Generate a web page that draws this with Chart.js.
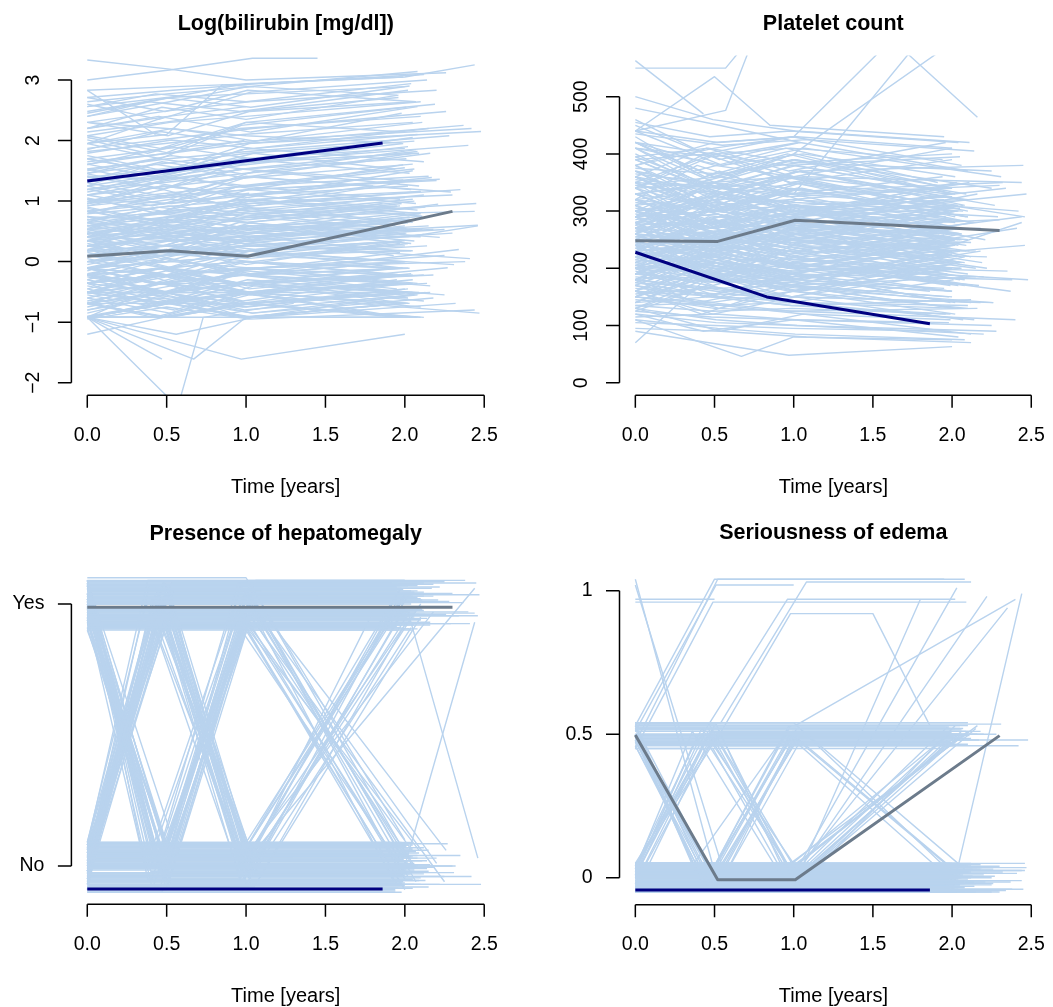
<!DOCTYPE html>
<html><head><meta charset="utf-8">
<script src="https://cdn.jsdelivr.net/npm/chart.js@4.4.1/dist/chart.umd.min.js"></script>
<style>
html,body{margin:0;padding:0;background:#fff;}
#wrap{position:relative;width:1053px;height:1007px;overflow:hidden;background:#fff;}
canvas{position:absolute;}
</style></head><body>
<div id="wrap">
<canvas id="c1" width="526" height="503" style="left:0px;top:0px"></canvas>
<canvas id="c2" width="527" height="503" style="left:526px;top:0px"></canvas>
<canvas id="c3" width="526" height="504" style="left:0px;top:503px"></canvas>
<canvas id="c4" width="527" height="504" style="left:526px;top:503px"></canvas>
</div>
<script>
// ---- visit times per patient (years) ----
const TIMES = [
[0,.50,1.00,2.00],[0,.49,.98,1.97],[0,.52,1.03,2.05],[0,.47,1.00,2.10],[0,.55,1.06,2.02],
[0,.50,.99],[0,.46,.97,1.95],[0,.51,1.02,2.20],[0,.53,1.05,2.45],[0,.48,.96],
[0,.50,1.01,1.98],[0,.54,1.08,2.12],[0,.45,.95,1.92],[0,.50],[0,.52,1.00,2.04],
[0,.49,1.03,2.30],[0,.47,.99,2.00],[0,.56,1.05,2.08],[0,.50,1.02],[0,.51,1.01,1.96],
[0,.48,1.00,2.25],[0,.53,1.04,1.45],[0,.46,.97,1.93],[0,.50,1.00,2.15],[0,.55,1.10],
[0,.49,.98,2.05],[0,.52,1.02,2.00],[0,.47,1.03,2.35],[0,.50,.99,1.99],[0,.51,1.00],
[0,.54,1.06,2.10],[0,.48,.97,1.98],[0,.50,1.01,2.40],[0,.46,.99,2.03],[0,.53,1.04],
[0,.50,1.00,2.00],[0,.49,1.02,2.18],[0,.52,1.03,1.95],[0,.47,.96,2.05],[0,.51,1.01,2.28],
[0,.50],[0,.55,1.05,2.00],[0,.48,.98,1.96],[0,.52,1.00,2.10],[0,.46,.97],
[0,.50,1.02,2.02],[0,.53,1.04,2.20],[0,.49,.99,1.99],[0,.51,1.01,2.42],[0,.47,.96,2.05],
[0,.50,1.03],[0,.54,1.06,2.00],[0,.48,.98,1.95],[0,.52,1.01,2.08],[0,.50,.99,2.01],
[0,.46,.97,2.15],[0,.53,1.05,2.32],[0,.51,1.02],[0,.49,1.00,1.97],[0,.47,.98,2.04],
[0,.55,1.07,2.10],[0,.50,1.00,2.00],[0,.52,1.04,2.26],[0,.48,.97],[0,.50,1.01,1.99],
[0,.46,.99,2.12],[0,.53,1.03,2.02],[0,.51,1.00,2.38],[0,.49,.98,1.94],[0,.47],
[0,.57,1.01,2.06],[0,.47,.96,2.00],[0,.52,1.02,2.18],[0,.50,1.05],[0,.48,.99,2.03],
[0,.54,1.06,2.44],[0,.51,1.01,1.98],[0,.49,.97,2.09],[0,.46,1.00,2.00],[0,.53,1.03],
[0,.50,1.00,2.22],[0,.52,1.04,2.01],[0,.48,.98,1.96],[0,.55,1.08,2.14],[0,.47,.97,2.05],
[0,.51,1.02,2.30],[0,.50,.99],[0,.53,1.05,2.00],[0,.49,1.01,2.11],[0,.46,.96,1.93],
[0,.52,1.00,2.48],[0,.50,1.03,2.04],[0,.48,.98,2.16],[0,.55,1.06,1.99],[0,.51,1.01,2.07],
[0,.47,.97,2.02],[0,.50,1.00],[0,.53,1.04,2.25],[0,.49,.99,2.01],[0,.52,1.02,2.12],
[0,.52,1.00,2.26],[0,.57,.72],[0,.43],[0,.50,.85,1.95],[0,.57,.73,1.30],
[0,.67,1.00,2.00],[0,.97,2.00],[0,.50,1.00,1.80],[0,.50,1.00,2.03],[0,.50,1.00,1.62,2.16],
[0,.48,1.00],[0,.50,1.00,1.98],[0,.52,1.00,2.00,2.44],[0,.51,1.00,2.02,2.46],[0,.50,.98,1.50,1.86],
[0,.40,.95,1.95],[0,.45,1.00,2.02],[0,.42,.98,2.05],[0,.50,1.02,1.99],[0,.38,.96,2.10],
[0,.47,1.01,2.00],[0,.44,.99,1.97],[0,.52,1.04,2.08],[0,.41,.97,2.03],[0,.49,1.00,1.93],
[0,.36,.94,2.01],[0,.48,1.03,2.12],[0,.43,.98,1.96],[0,.51,1.02,2.06],[0,.40,.99,2.00],
[0,.46,1.01,1.98],[0,.53,1.05,2.15],[0,.39,.97,1.94],[0,.45,1.00,2.02],[0,.50,.98,2.09],
[0,.42,1.02,1.99],[0,.47,.96,2.04],[0,.55,1.07,2.00],[0,.37,.95,1.91],[0,.49,1.01,2.07],
[0,.44,.99,2.01],[0,.52,1.03,2.13],[0,.41,.97,1.97],[0,.48,1.00,2.05],[0,.46,1.04,1.95],
[0,.54,1.06,2.11],[0,.43,.98,2.00],[0,.50,1.01,1.98],[0,.40,.96,2.03],[0,.47,1.02,2.17],
[0,.51,.99,1.96],[0,.45,1.03,2.08],[0,.38,.97,2.00],[0,.50,1.00,2.02],[0,.44,1.05,1.94],
[0,.49,.98,2.06],[0,.42,1.01,1.99],[0,.53,1.04,2.10],[0,.46,.97,2.01],[0,.41,1.00,2.04],
[0,.48,1.02,1.97],[0,.52,.99,2.09],[0,.39,.96,2.02],[0,.47,1.03,1.95],[0,.44,.98,2.00],
[0,.50,1.01,2.12],[0,.43,1.00,1.98],[0,.51,1.05,2.05],[0,.45,.97,1.96],[0,.48,1.02,2.07],
[0,.40,.99,2.01],[0,.53,1.03,2.14],[0,.46,1.00,1.99],[0,.42,.97,2.03],[0,.49,1.01,2.00],
[0,.44,.98,2.08],[0,.50,1.04,1.97],[0,.37,.96,2.02],[0,.47,1.02,2.10],[0,.52,.99,1.95],
[0,.43,1.00,2.04],[0,.48,1.03,2.01],[0,.41,.97,1.98],[0,.46,1.01,2.06],[0,.50,1.05,2.00],
[0,.45,.98,2.02],[0,.52,1.01,2.21],[0,.48,.97,1.99],[0,.50,1.03,2.34],[0,.43,.99,2.05],
[0,.55,1.05,2.12],[0,.47,1.00,1.96],[0,.51,1.02,2.41],[0,.44,.96,2.00],[0,.49,1.04,2.18],
[0,.53,1.00,2.06],[0,.46,.98,1.98],[0,.50,1.01,2.27],[0,.42,.97,2.03],[0,.54,1.06,2.09],
[0,.48,1.02,2.47],[0,.51,.99,1.97],[0,.45,1.03,2.14],[0,.50,1.00,2.00],[0,.47,.96,2.22],
[0,.52,1.04,2.05],[0,.44,.98,1.95],[0,.55,1.07,2.31],[0,.49,1.01,2.08],[0,.46,.97,2.01],
[0,.50,1.02,2.44],[0,.43,1.00,2.10],[0,.53,1.05,1.99],[0,.48,.99,2.16],[0,.51,1.03,2.03],
[0,.45,.96,1.94],[0,.50,1.01,2.25],[0,.47,.98,2.07],[0,.54,1.06,2.12],[0,.42,1.00,1.98],
[0,.49,1.02,2.37],[0,.52,.97,2.04],[0,.46,1.04,2.02],[0,.50,1.00,2.19],[0,.44,.99,2.06],
[0,.53,1.03,2.00],[0,.48,1.01,2.29],[0,.51,.96,1.97],[0,.45,1.02,2.11],[0,.50,.98,2.05],
[0,.47,1.05,2.46],[0,.53,1.00,2.02],[0,.49,.97,1.95],[0,.42,1.01,2.13],[0,.55,1.04,2.08],
[0,.45,.99,2.01],[0,.50,1.02,2.04],[0,.47,.98,1.99],[0,.52,1.03,2.10],[0,.44,1.00,2.05],
[0,.49,1.01,1.97],[0,.51,.97,2.08],[0,.46,1.02,2.02],[0,.53,1.04,2.00],[0,.48,.99,2.06]
];
// ---- log(bilirubin) per visit ----
const BILI = [
[-.51,-.36,-.22,-.36],[.18,.26,.41,.53],[1.10,1.25,1.39,1.61],[-.92,-.92,-.69,-.92],[.41,.34,.53,.64],
[1.61,1.79,2.00],[-.22,-.11,0,-.11],[2.30,2.49,2.64,2.83],[.59,.64,.74,.96],[-.69,-.51,-.69],
[0,.10,.18,.34],[2.71,2.83,2.94,3.09],[-.36,-.22,-.36,-.22],[1.95,2.40],[.53,.47,.59,.69],
[-.11,.10,.26,.47],[1.39,1.53,1.70,1.87],[-.92,-1.20,-.92,-.92],[.83,.96,1.13],[-.51,-.51,-.36,-.51],
[.26,.41,.34,.53],[3.00,3.17,3.36,3.36],[-.69,-.51,-.51,-.36],[.99,1.13,1.25,1.41],[-.36,-.22,-.11],
[1.82,1.95,2.10,2.30],[-.11,-.22,-.11,0],[.64,.79,.96,1.19],[-.92,-.69,-.92,-.69],[2.20,2.40,2.56],
[.34,.26,.47,.41],[-.22,-.36,-.22,-.11],[1.25,1.45,1.65,1.92],[-.51,-.69,-.51,-.69],[.10,.18,.26],
[2.56,2.71,2.77,2.89],[-.69,-.51,-.36,-.22],[.74,.69,.83,.92],[-.36,-.51,-.36,-.51],[1.53,1.70,1.82,2.08],
[-.11,0],[.47,.59,.53,.69],[-.92,-.92,-.92,-.92],[2.08,2.30,2.40,2.64],[.26,.18,.34],
[-.22,-.11,-.22,-.11],[.96,1.10,1.19,1.34],[-.51,-.36,-.36,-.22],[1.70,1.87,1.99,2.20],[.18,.10,.26,.18],
[-.69,-.92,-.69],[.59,.74,.88,1.06],[-.36,-.22,-.11,-.22],[2.40,2.64,2.89,3.14],[-.11,0,.10,0],
[.34,.47,.41,.59],[-.92,-.69,-.92,-.69],[1.19,1.41,1.61],[.10,.26,.18,.34],[-.22,-.36,-.51,-.36],
[.79,.92,1.03,1.16],[-.51,-.51,-.51,-.36],[1.87,2.03,2.20,2.48],[-.69,-.69,-.51],[.41,.53,.47,.64],
[-.36,-.22,-.36,-.22],[1.03,.96,1.10,1.25],[-.11,-.22,-.11,0],[.53,.64,.79,.88],[-.92,-1.61],
[1.46,1.65,1.79,1.99],[-.69,-.51,-.69,-.51],[.26,.34,.41,.53],[2.64,2.77,2.89],[-.22,-.11,0,-.11],
[.64,.59,.74,.83],[-.51,-.36,-.51,-.36],[1.31,1.48,1.63,1.79],[0,.10,.18,.26],[-.36,-.51,-.36],
[.92,1.06,1.19,1.36],[-.92,-.69,-.69,-.92],[2.14,2.30,2.48,2.71],[.18,.26,.10,.26],[-.11,-.22,-.36,-.22],
[.69,.83,.96,1.10],[1.10,1.34,1.53],[-.51,-.69,-.51,-.51],[.47,.41,.59,.53],[-.22,-.36,-.22,-.36],
[1.65,1.79,1.95,2.15],[.10,0,.10,.18],[-.69,-.92,-.69,-.51],[2.83,2.89,2.94,3.05],[.34,.47,.59,.69],
[-.36,-.22,-.36,-.22],[.59,.74,.92],[-.11,0,-.11,.10],[1.41,1.36,1.53,1.70],[-.92,-.92,-.69,-.92],
[3.33,3.18,3.00,3.12],[.47,.59,.64],[2.83,2.10],[1.95,2.10,2.92,2.75],[-.92,-2.40,-.92,-.69],
[-.92,-1.61,-.92,-.69],[-.92,-1.61,-1.20],[.69,.83,.99,1.25],[.26,.41,.53,.69],[1.19,1.31,1.46,1.61,1.79],
[-1.20,-.92,-.69],[2.30,2.20,2.08,1.96],[2.48,2.71,2.94,3.05,3.25],[0,.18,.26,.41,.59],[.41,.53,.69,.83,.96],
[.83,.64,1.03,.88],[-.36,-.11,-.51,-.22],[1.25,1.61,1.39,1.79],[0,-.22,.18,-.11],[2.01,1.79,2.20,2.40],
[-.69,-.36,-.69,-.51],[.53,.83,.64,.92],[-.22,-.51,-.11,-.36],[1.53,1.30,1.70,1.46],[.26,0,.34,.10],
[-.92,-.51,-.92,-.69],[.92,1.19,.83,1.10],[-.51,-.22,-.36,-.11],[2.30,2.08,2.48,2.64],[.10,.41,.18,.47],
[-.11,-.36,0,-.22],[1.79,2.01,1.87,2.20],[-.36,-.69,-.51,-.92],[.64,.41,.74,.53],[.41,.69,.47,.79],
[-.69,-.92,-.51,-.69],[1.41,1.19,1.53,1.33],[.18,.47,.26,.53],[-.22,0,-.36,-.11],[2.71,2.48,2.83,2.64],
[.74,.53,.88,.64],[-.92,-.69,-.92,-.51],[1.10,.92,1.25,1.03],[-.51,-.22,-.51,-.36],[.34,.10,.41,.18],
[1.95,2.20,1.99,2.30],[-.36,-.11,-.22,0],[.59,.83,.69,.96],[-.11,-.36,-.22,-.51],[.96,1.25,1.10,1.39],
[-.69,-.51,-.92,-.69],[2.20,2.40,2.14,2.56],[.26,.53,.34,.59],[-.22,-.51,-.36,-.69],[1.61,1.39,1.79,1.53],
[.47,.18,.59,.34],[-.92,-.69,-.51,-.92],[.83,1.03,.92,1.16],[-.36,-.11,-.36,-.22],[1.25,1.03,1.41,1.19],
[0,.26,.10,.34],[-.51,-.69,-.36,-.51],[2.40,2.64,2.48,2.83],[.53,.26,.64,.41],[-.11,.10,-.22,0],
[1.70,1.46,1.87,1.65],[-.69,-.36,-.51,-.22],[.69,.92,.79,1.03],[-.92,-.92,-.69,-.92],[1.03,.83,1.19,.96],
[.18,.41,.26,.47],[-.36,-.22,-.51,-.36],[2.08,1.87,2.30,2.14],[.41,.64,.47,.74],[-.22,-.51,-.11,-.36],
[1.46,1.70,1.53,1.82],[.10,-.11,.18,0],[-.51,-.22,-.69,-.36],[.88,.64,1.03,.79],[-.92,-.69,-.92,-.69],
[2.56,2.77,2.64,2.94],[.34,.59,.41,.69],[-.11,-.36,0,-.22],[1.19,1.41,1.25,1.53],[-.69,-.92,-.69,-.51],
[-.80,-.60,-.75,-.45],[.45,.75,.55,.95],[1.45,1.20,1.65,1.95],[-.30,.05,-.20,.20],[.95,1.30,1.05,1.50],
[-.55,-.80,-.40,-.65],[2.20,2.55,2.35,2.75],[.15,-.10,.30,.05],[1.05,.80,1.25,1.55],[-.85,-.55,-.85,-.60],
[.60,.35,.80,.50],[1.85,2.15,1.95,2.45],[-.45,-.15,-.40,-.10],[.25,.55,.35,.70],[1.30,1.05,1.50,1.25],
[-.70,-.90,-.55,-.85],[.80,1.10,.90,1.30],[2.60,2.35,2.80,3.00],[-.15,.20,-.05,.35],[.50,.25,.65,.40],
[1.60,1.90,1.70,2.05],[-.60,-.35,-.65,-.30],[.05,-.25,.15,-.05],[.90,.65,1.10,.85],[1.95,1.70,2.25,2.55],
[-.95,-.75,-.95,-.80],[.35,.60,.45,.75],[1.15,1.40,1.20,1.60],[-.25,-.50,-.15,-.40],[2.45,2.70,2.55,2.90],
[.70,.45,.85,.60],[-.40,-.65,-.30,-.55],[1.35,1.65,1.45,1.85],[.10,.35,.20,.45],[-.80,-.55,-.75,-.50],
[1.75,1.50,1.95,2.25],[.40,.15,.55,.30],[-.10,.15,0,.30],[2.05,1.80,2.30,2.60],[.65,.90,.75,1.00],
[-.65,-.40,-.70,-.45],[1.20,.95,1.40,1.15],[-.20,.05,-.15,.15],[.85,.60,1.00,.75],[-.50,-.25,-.55,-.30],
[.30,.05,.40,.60],[1.50,1.75,1.60,1.90],[-.30,-.55,-.20,-.45],[.55,.80,.65,.90],[-.90,-.65,-.85,-.55],
[.20,.45,.30,.55],[-.35,-.10,-.45,-.20],[1.00,1.25,1.10,1.35],[-.60,-.85,-.50,-.75],[.75,.50,.90,.65],
[-.05,.20,.05,.30],[1.70,1.45,1.85,2.10],[-.45,-.70,-.35,-.60],[.45,.70,.55,.80],[-.75,-.50,-.80,-.55]
];
// ---- platelet count per visit ----
const PLAT = [
[190,210,185,200],[260,240,255,230],[320,300,280,250],[150,140,160,130],[410,380,400,360],
[230,200,190],[290,310,300,320],[130,110,100,85],[350,340,370,380],[220,240,230],
[175,165,170,150],[95,90,80,70],[300,280,270,260],[160,140],[265,290,275,300],
[340,350,330,345],[210,185,170,150],[240,250,235,245],[380,420,430],[280,270,300,290],
[125,115,110,100],[200,195,180,170],[330,310,320,340],[255,265,240,230],[175,150,140],
[300,270,240,210],[440,420,430,410],[235,220,205,195],[105,100,95,90],[180,160,140],
[360,330,350,320],[205,220,210,225],[150,130,125,110],[320,335,300,310],[480,450,420],
[260,250,245,240],[275,285,260,270],[190,175,180,165],[390,400,380,395],[120,105,100,90],
[240,225],[300,330,310,325],[215,200,195,205],[340,300,280,250],[155,165,145],
[265,255,275,260],[230,210,200,185],[135,125,130,120],[370,340,330,300],[285,300,290,305],
[410,395,420],[205,190,175,160],[250,240,260,245],[110,95,85,75],[315,300,320,305],
[180,195,170,185],[345,360,335,350],[270,240,220],[225,235,215,230],[455,430,440,420],
[160,150,140,135],[295,280,295,285],[200,180,165,140],[365,350,360],[245,230,250,235],
[140,150,135,145],[305,290,310,280],[185,175,190,180],[420,400,410,390],[195,170],
[250,230,215,200],[330,345,325,340],[165,155,150,140],[230,205,190],[270,280,265,285],
[355,340,360,350],[115,120,110,105],[290,265,250,230],[395,410,385,400],[210,225,205],
[255,240,230,220],[300,315,295,310],[170,150,135,120],[435,415,425,405],[145,135,140,130],
[280,295,270,285],[220,210,195],[260,245,265,250],[500,460,440,420],[190,205,185,200],
[240,220,205,180],[310,325,305,320],[135,140,125,130],[150,135,120,110],[345,330,315,300],
[230,245,225,240],[290,300,310],[375,365,385,370],[200,215,195,210],[250,265,255,245],
[180,165,150,140],[550,550,600],[563,470],[440,535,450,430],[440,476,590,600],
[110,46,80,75],[90,48,63],[300,320,330,600],[330,350,400,600],[380,410,430,600,464],
[70,190,180],[420,380,360,330],[270,260,250,240,280],[230,240,220,230,240],[190,180,175,170,160],
[310,250,290,260],[240,300,260,310],[350,280,330,270],[180,230,200,250],[200,260,230,190],
[300,240,280,230],[150,210,170,230],[390,330,370,310],[270,320,250,300],[220,180,240,200],
[340,290,360,300],[260,210,280,220],[130,180,150,190],[290,230,270,210],[410,350,390,330],
[175,225,190,240],[230,280,240,200],[320,380,330,360],[200,150,190,140],[360,300,340,290],
[260,320,280,330],[190,240,210,170],[280,340,300,260],[430,370,410,350],[160,120,150,110],
[320,270,300,250],[215,265,230,280],[380,320,360,300],[140,190,160,200],[250,310,270,320],
[300,240,270,230],[200,150,190,160],[420,360,400,340],[275,335,290,350],[180,230,200,170],
[330,280,310,270],[240,190,220,180],[160,210,180,230],[370,310,350,290],[210,260,230,280],
[290,350,300,260],[230,180,210,170],[450,390,420,370],[125,170,140,180],[310,260,290,240],
[235,285,250,300],[395,340,380,330],[180,140,170,130],[270,220,260,210],[340,400,350,390],
[150,200,170,140],[290,240,280,230],[205,255,225,270],[360,410,370,420],[245,195,235,185],
[180,220,190,240],[310,370,320,280],[260,210,250,200],[140,190,160,210],[420,360,390,340],
[230,280,250,210],[300,250,290,240],[190,240,200,250],[350,300,340,290],[260,310,270,320],
[120,90,110,80],[330,280,320,270],[210,260,220,270],[280,230,270,220],[160,210,175,225],
[220,280,240,300],[330,270,310,250],[180,240,200,160],[290,350,300,340],[140,190,150,210],
[360,300,340,280],[250,200,260,210],[200,250,210,270],[420,360,400,330],[170,220,180,230],
[310,260,300,250],[230,290,240,300],[380,320,370,310],[160,120,170,130],[270,330,280,240],
[300,250,290,330],[210,260,220,190],[130,170,140,110],[350,400,360,410],[240,190,250,200],
[190,240,200,260],[280,220,270,210],[440,380,410,360],[150,200,160,220],[320,270,310,260],
[230,280,240,290],[370,310,360,300],[200,150,190,140],[260,320,270,330],[290,240,280,220],
[180,230,190,240],[410,350,390,340],[240,300,250,310],[130,90,120,85],[300,350,310,270],
[220,170,210,160],[340,400,350,310],[190,240,200,250],[270,220,260,210],[460,400,430,380],
[210,260,220,270],[320,280,310,290],[160,210,170,220],[290,340,300,350],[240,190,230,180],
[360,300,350,290],[170,130,160,120],[280,330,290,340],[230,180,220,170],[390,330,370,320],
[250,300,260,310],[310,260,300,250],[200,250,210,260],[350,300,340,290],[170,220,180,230],
[270,320,280,240],[230,180,220,170],[400,340,380,330],[150,190,160,200],[320,270,310,260]
];
// ---- hepatomegaly (0 = No, 1 = Yes, jittered as plotted) ----
const HEP = [
[.03,.03,.03,1.03],[1.06,1.06,1.06,.02],[.95,.95,-.05,-.05],[-.06,-.06,.94,.94],[1.09,.08,.08,.08],
[.98,.98,.98],[-.02,1.02,1.02,1.02],[1.01,1.01,1.01,.01],[.07,1.08,1.08,1.08],[.93,.93,-.05],
[-.09,-.09,.91,.91],[1.04,1.04,1.04,1.04],[.05,.05,1.08,1.08],[.96,.96],[-.07,-.07,-.07,.91],
[1.00,1.00,0,0],[.91,.91,.91,-.09],[0,0,0,0],[1.07,1.07,1.07],[.09,.09,.94,.94],
[.94,-.04,-.04,-.04],[1.03,1.03,1.03,1.03],[-.01,-.01,-.01,.99],[.99,.06,.06,.06],[.06,1.05,1.05],
[1.08,1.08,.08,.08],[.02,.02,.02,.02],[.92,.92,.04,.04],[-.08,-.08,.92,-.08],[1.05,1.05,1.05],
[.08,1.01,1.01,1.01],[1.02,1.02,.02,.02],[.97,.97,.97,.97],[-.03,-.03,-.03,.97],[.04,.04,.04],
[1.10,1.10,1.10,.10],[.06,.06,.06,.97],[.90,.90,.90,.90],[-.10,-.10,.90,.90],[1.01,1.01,1.01,1.01],
[.01,.92],[.99,.99,-.01,.99],[.05,.05,.05,1.05],[.94,.94,.94,.94],[-.05,1.06,1.06],
[.07,.07,1.07,1.07],[1.04,.03,.03,.03],[-.06,-.06,-.06,-.06],[.96,.96,-.04,-.04],[.09,.09,.09,.09],
[1.00,1.00,1.00],[.02,.02,1.09,1.09],[.93,.93,.93,-.07],[1.07,1.07,1.07,1.07],[-.04,-.04,.96,.96],
[.98,.98,-.02,-.02],[0,0,0,0],[.91,-.08,-.08],[.04,.04,1.04,1.04],[1.05,1.05,1.05,1.05],
[-.07,-.07,-.07,-.07],[.95,.95,.95,-.05],[1.02,1.02,1.02,.06],[.08,.08,.08],[-.02,.99,.99,.99],
[.97,.97,-.03,-.03],[.05,.05,.05,.05],[1.09,1.09,1.09,1.09],[-.09,-.09,-.09,-.09],[.01,.01],
[.92,.92,.92,.92],[.03,.03,.03,1.03],[1.03,1.03,1.03,1.03],[.99,.99,.99],[-.06,-.06,.94,.94],
[.06,.06,.06,1.06],[1.06,1.06,1.06,1.06],[.96,.96,.96,.96],[-.01,-.01,.99,.99],[.09,.09,.09],
[.93,.93,-.07,-.07],[-.04,-.04,-.04,-.04],[1.08,1.08,1.08,1.08],[.02,.02,.02,.02],[1.01,1.01,1.01,.01],
[.05,1.04,1.04,1.04],[.95,.95,.95],[-.08,-.08,-.08,.92],[.98,.98,.98,.98],[.07,.07,.07,.07],
[1.05,1.05,-.07,-.07],[-.03,-.03,-.03,-.03],[.92,.92,.92,.92],[1.00,1.00,1.00,1.00],[0,0,0,0],
[1.07,.04,.04,1.03],[-.05,-.05,-.05],[.94,.94,.94,-.06],[.08,.08,.08,.08],[1.03,1.03,1.03,1.03],
[.96,.96,.96,.96],[.04,.04,.04],[1.02,.05],[1.05,1.05,1.05,1.05],[.03,.03,.03,.03],
[-.03,-.03,-.03,-.03],[.98,.98,.98],[0,0,0,.97],[1.08,.06,.06,.06],[.93,.93,.93,.93,.93],
[.06,.96,.96],[-.10,-.10,-.10,-.10],[0,0,0,0,.93],[.97,.97,.97,.97,.03],[.05,.05,.05,.05,.05],
[1.04,-.02,-.02,-.02],[-.07,.97,.97,.97],[.93,.06,1.03,1.03],[.02,1.06,.02,.02],[1.09,-.05,-.05,1.00],
[-.03,.92,.92,-.03],[.98,.04,.04,.04],[.07,.07,1.05,1.05],[1.01,-.09,1.01,1.01],[-.06,1.02,1.02,-.06],
[.95,.01,.01,.01],[.05,1.08,1.08,1.08],[1.06,1.06,-.01,-.01],[-.04,.95,.95,.95],[.99,.08,.08,1.04],
[.03,.03,.96,.96],[1.07,-.08,-.08,-.08],[-.09,.91,.91,.91],[.94,.94,.07,.07],[.06,.06,.93,.06],
[1.02,0,0,0],[0,.99,.99,.99],[.92,.92,-.02,-.02],[.09,1.00,.09,.09],[1.05,1.05,1.05,-.06],
[-.01,.94,.94,.94],[.96,.04,.96,.96],[.07,.07,1.07,1.07],[1.03,-.05,-.05,-.05],[-.08,-.08,.98,.98],
[.90,.02,.02,.02],[.04,1.04,1.04,.04],[.97,.97,.97,.97],[.05,.95,-.03,-.03],[1.06,-.04,1.06,1.06],
[-.05,-.05,-.05,.94],[1.00,.03,.03,.03],[.08,1.09,1.09,1.09],[.93,.93,.08,.08],[.01,1.01,1.01,.01],
[1.08,-.07,-.07,-.07],[-.02,.96,.96,.96],[.95,.95,-.09,.95],[.06,.06,1.01,1.01],[1.04,0,0,0],
[-.07,.92,.92,.92],[.98,.98,.05,.05],[.02,1.07,1.07,1.07],[1.01,-.03,-.03,1.01],[-.04,-.04,.97,.97],
[.94,.07,.07,.07],[.09,1.03,.09,.09],[1.05,1.05,1.05,0],[0,.99,.99,.99],[.97,.05,.97,.97],
[-.06,-.06,.95,.95],[1.02,-.01,-.01,-.01],[.03,1.05,1.05,.03],[.96,.96,.02,.02],[.07,.94,.94,.94],
[1.09,.04,.04,.04],[-.02,1.04,-.02,-.02],[.91,.91,.91,-.04],[.04,.04,1.02,1.02],[1.00,-.06,-.06,-.06],
[.08,1.00,1.00,1.00],[.93,.93,.06,.93],[-.05,1.02,1.02,1.02],[1.07,.01,.01,.01],[.02,.02,.98,.98],
[.015,.015,.015,.015],[1.015,1.015,1.015,1.015],[-.035,-.035,-.035,-.035],[.955,.955,.955,.955],[.065,.065,.065,.065],
[1.045,1.045,1.045,1.045],[-.085,-.085,-.085,-.085],[.925,.925,.925,.925],[.045,.045,.045,.045],[1.075,1.075,1.075,1.075],
[-.015,-.015,-.015,-.015],[.985,.985,.985,.985],[.085,.085,.085,.085],[.905,.905,.905,.905],[-.055,-.055,-.055,-.055],
[1.035,1.035,1.035,1.035],[.025,.025,.025,.025],[.945,.945,.945,.945],[-.075,-.075,-.075,-.075],[1.065,1.065,1.065,1.065],
[.035,.035,.035,.035],[.915,.915,.915,.915],[-.025,-.025,-.025,-.025],[1.025,1.025,1.025,1.025],[.075,.075,.075,.075],
[.965,.965,.965,.965],[-.045,-.045,-.045,-.045],[1.055,1.055,1.055,1.055],[.005,.005,.005,.005],[.935,.935,.935,.935],
[-.095,-.095,-.095,-.095],[1.085,1.085,1.085,1.085],[.055,.055,.055,.055],[.975,.975,.975,.975],[-.065,-.065,-.065,-.065],
[1.005,1.005,1.005,1.005],[.035,.035,.035,.035],[.945,.945,.945,.945],[-.005,-.005,-.005,-.005],[1.045,1.045,1.045,1.045],
[-.035,-.035,-.035,-.035],[.925,.925,.925,.925],[.075,.075,.075,.075],[1.015,1.015,1.015,1.015],[-.085,-.085,-.085,-.085],
[.955,.955,.955,.955],[.045,.045,.045,.045],[1.065,1.065,1.065,1.065],[-.055,-.055,-.055,-.055],[.905,.905,.905,.905],
[.985,-.015,-.015,-.015],[.065,1.035,1.035,1.035],[1.005,1.005,.025,.025],[-.045,-.045,.985,.985],[.935,.935,.935,.055],
[.015,.015,.015,1.055],[1.075,.045,1.075,1.075],[.035,.995,.035,.035],[.945,-.065,-.065,-.065],[-.025,.965,.965,.965]
];
// ---- seriousness of edema (0 / 0.5 / 1, jittered as plotted) ----
const EDEMA = [
[.01,.01,.01,.01],[-.03,-.03,-.03,.48],[.52,.52,.52,.52],[.04,.04,.04,.04],[-.01,-.01,-.01,-.01],
[.47,.47,.47],[.03,.03,.03,.03],[.05,.50,.50,.50],[-.04,-.04,-.04,-.04],[.02,.02,.02],
[-.02,-.02,-.02,-.02],[.54,.54,1.03,1.03],[0,0,0,0],[.97,.97],[.01,.01,.01,.01],
[-.05,-.05,-.05,-.05],[.49,-.01,-.01,-.01],[.04,.04,.04,.04],[.03,.03,.03],[-.03,-.03,-.03,-.03],
[0,0,0,0],[.02,.02,.02,.02],[.52,.52,.01,.01],[-.02,-.02,-.02,-.02],[.05,.05,.05],
[.45,.45,-.03,-.03],[-.04,-.04,.51,.51],[.03,.03,.03,.94],[0,0,0,0],[.51,1.02,1.02],
[.02,.02,.02,.02],[-.01,-.01,-.01,-.01],[.04,.53,.53,.97],[-.05,-.05,-.05,-.05],[.01,.01,.01],
[.48,.48,.48,-.01],[.03,.03,.03,.03],[-.02,-.02,-.02,-.02],[.05,.05,.05,.05],[-.02,.50,.50,.50],
[0,0],[-.03,-.03,-.03,-.03],[.02,.02,.02,.02],[.54,.54,.54,.54],[-.01,-.01,-.01],
[.04,.04,.52,.52],[.01,.01,.01,.01],[-.04,-.04,-.04,-.04],[.46,.46,.46,.46],[0,0,0,0],
[.03,.03,.03],[-.02,-.02,-.02,-.02],[.05,.05,.05,.05],[.47,1.04,1.04,1.04],[.01,.01,.01,.01],
[-.05,-.05,-.05,-.05],[.02,.02,.02,.02],[.49,.49,.49],[-.01,-.01,-.01,.47],[.04,.04,.04,.04],
[.53,.53,.53,.53],[0,0,0,0],[.03,.03,.03,.03],[-.03,-.03,-.03],[.05,.05,.05,.05],
[.02,.02,.02,.02],[.47,.47,-.02,-.02],[-.04,-.04,-.04,-.04],[.01,.01,.01,.01],[.03,.03],
[.04,.04,.04,.50],[-.02,-.02,-.02,-.02],[.51,.51,.51,.51],[0,0,0],[.05,.05,.05,.05],
[-.01,-.01,-.01,-.01],[.02,.02,.02,.02],[.45,.96,.96,.96],[-.05,-.05,-.05,-.05],[.04,.04,.04],
[0,0,0,.98],[.03,.03,.03,.03],[.50,.50,.50,.50],[-.03,-.03,-.03,-.03],[.01,.51,.51,.01],
[.04,.04,.04,.04],[.53,.53,.53],[-.01,-.01,-.01,-.01],[.02,.02,.02,.02],[0,0,0,0],
[.48,.48,.48,.48],[-.04,-.04,-.04,-.04],[.05,.05,.05,.53],[.52,.52,.52,.52],[.01,.01,.01,.01],
[-.02,-.02,-.02,-.02],[.03,.03,.03],[-.05,-.05,-.05,-.05],[.49,.02,.02,.02],[.04,.04,.04,.04],
[1.04,-.02,-.02,-.02],[1.02,0,0],[.96,.96],[.53,1.04,1.04,1.04],[.02,.02,.02,.02],
[0,0,0,0],[.04,.04,.51],[-.03,-.03,-.03,.97],[.01,.01,.01,1.01],[.50,.50,.50,.50,.50],
[0,0,0],[.53,0,0,.50],[-.05,-.05,-.05,-.05,.99],[.05,.05,.05,.05,.05],[.47,.47,.92,.92,.53],
[.02,.50,.50,.50],[.48,-.03,-.03,-.03],[-.04,-.04,.53,.53],[.01,.01,.01,.01],[.50,.02,.02,.51],
[-.02,-.02,.47,.47],[.04,.04,.04,.04],[.52,.52,.52,.03],[0,.49,.49,.49],[-.03,-.03,-.03,-.03],
[.03,.51,-.01,-.01],[.05,.05,.05,.05],[.46,.02,.02,.02],[-.01,-.01,.50,.50],[.02,.02,.02,.02],
[.54,.54,.03,.03],[0,0,0,.52],[.47,.47,.47,.47],[-.05,.46,.46,.46],[.04,.04,.04,.04],
[.01,.01,.01,.01],[.53,-.04,-.04,.49],[-.02,-.02,-.02,-.02],[.05,.05,.50,.50],[.52,.52,.52,.52],
[0,0,0,0],[.03,.03,.03,.03],[-.04,-.04,-.04,-.04],[.48,.02,.50,.50],[.02,.02,.02,.02],
[.04,.51,.51,.51],[-.01,-.01,-.01,-.01],[.50,-.03,-.03,-.03],[.05,.05,.05,.05],[-.03,-.03,.48,.48],
[.01,.01,.01,.01],[.51,.51,-.02,-.02],[.03,.03,.03,.03],[-.05,-.05,-.05,.53],[.45,.45,.45,.45],
[0,0,0,0],[.04,.52,.04,.04],[.02,.02,.02,.02],[-.02,.49,.49,.49],[.52,-.01,-.01,-.01],
[.01,.01,.01,.01],[.05,.05,.51,.51],[.47,.47,.97,.97],[-.04,-.04,-.04,-.04],[.03,.50,.50,.03],
[0,0,0,0],[.49,.49,.01,.01],[.02,.02,.02,.02],[-.01,-.01,.53,.53],[.04,.04,.04,.04],
[.50,.01,.01,.01],[-.03,-.03,-.03,-.03],[.54,.54,.54,.02],[.03,.03,.03,.48],[.05,.05,.05,.05],
[.48,-.04,.49,.49],[-.02,-.02,-.02,-.02],[.01,.47,.47,.47],[.04,.04,.04,.04],[.52,.52,0,0],
[.03,.03,.03,.03],[-.05,-.05,.50,.50],[.46,.02,.02,.02],[0,0,0,.51],[.02,.02,.02,.02],
[.005,.005,.005,.005],[-.015,-.015,-.015,-.015],[.035,.035,.035,.035],[-.045,-.045,-.045,-.045],[.025,.025,.025,.025],
[.485,.485,.485,.485],[-.025,-.025,-.025,-.025],[.015,.015,.015,.015],[-.035,-.035,-.035,-.035],[.045,.045,.045,.045],
[.515,.515,.515,.515],[-.005,-.005,-.005,-.005],[.005,.005,.005,.005],[.025,.025,.025,.025],[-.045,-.045,-.045,-.045],
[.035,.035,.035,.035],[.465,.465,.465,.465],[-.015,-.015,-.015,-.015],[.045,.045,.045,.045],[.015,.015,.015,.015],
[-.025,-.025,-.025,-.025],[.005,.005,.005,.005],[.535,.535,.535,.535],[-.035,-.035,-.035,-.035],[.045,.045,.045,.045],
[.025,.025,.025,.025],[-.005,-.005,-.005,-.005],[.475,.475,.475,.475],[.035,.035,.035,.035],[-.045,-.045,-.045,-.045],
[.015,.015,.015,.015],[-.025,-.025,-.025,-.025],[.005,.005,.005,.005],[.045,.045,.045,.045],[.525,.525,.525,.525],
[-.015,-.015,-.015,-.015],[.025,.025,.025,.025],[-.035,-.035,-.035,-.035],[.035,.035,.035,.035],[.005,.005,.005,.005],
[.045,.045,.045,.045],[-.045,-.045,-.045,-.045],[.015,.015,.015,.015],[.495,.495,.495,.495],[-.025,-.025,-.025,-.025],
[.025,.025,.025,.025],[-.005,-.005,-.005,-.005],[.035,.035,.035,.035],[.005,.005,.005,.005],[-.045,-.045,-.045,-.045],
[.045,.045,.045,.045],[.475,-.005,-.005,-.005],[.005,.505,.505,.505],[-.035,-.035,.465,.465],[.025,.025,.025,.025],
[.015,.015,.015,.525],[.535,.535,-.015,-.015],[-.025,-.025,-.025,-.025],[.005,.005,.005,.005],[.045,.045,.045,.045]
];
// ---- highlighted patients ----
const NAVY_TIMES = [0, 0.83, 1.86];
const NAVY_BILI = [1.33, 1.61, 1.96];
const NAVY_PLAT = [228, 150, 103];
const NAVY_HEP = [-0.088, -0.088, -0.088];
const NAVY_EDEMA = [-0.043, -0.043, -0.043];
const GRAY_TIMES = [0, 0.52, 1.01, 2.30];
const GRAY_BILI = [0.09, 0.18, 0.09, 0.83];
const GRAY_PLAT = [248, 247, 284, 266];
const GRAY_HEP = [0.987, 0.987, 0.987, 0.987];
const GRAY_EDEMA = [0.497, -0.007, -0.007, 0.495];
// ---- ticks / labels ----
const X_TICKS = [0, 0.5, 1, 1.5, 2, 2.5];
const X_TICK_LABELS = ['0.0', '0.5', '1.0', '1.5', '2.0', '2.5'];
const BILI_TICKS = [-2, -1, 0, 1, 2, 3];
const BILI_TICK_LABELS = ['\u22122', '\u22121', '0', '1', '2', '3'];
const PLAT_TICKS = [0, 100, 200, 300, 400, 500];
const PLAT_TICK_LABELS = ['0', '100', '200', '300', '400', '500'];
const HEP_TICKS = [0, 1];
const HEP_TICK_LABELS = ['No', 'Yes'];
const EDEMA_TICKS = [0, 0.5, 1];
const EDEMA_TICK_LABELS = ['0', '0.5', '1'];
const TITLES = ['Log(bilirubin [mg/dl])', 'Platelet count', 'Presence of hepatomegaly', 'Seriousness of edema'];
const X_TITLE = 'Time [years]';

const LIGHT = '#B9D3EE', GRAY = '#6C7B8B', NAVY = '#000080';
const FONT = '"Liberation Sans", Arial, Helvetica, sans-serif';

function pts(t, v) {
  const n = Math.min(t.length, v.length);
  const out = [];
  for (let j = 0; j < n; j++) out.push({x: t[j], y: v[j]});
  return out;
}

function axesPlugin(cfg) {
  return {
    id: 'raxes',
    afterDraw(chart) {
      const {ctx, chartArea: a, scales: {x, y}} = chart;
      ctx.save();
      ctx.strokeStyle = '#000';
      ctx.fillStyle = '#000';
      ctx.lineWidth = 1.5;
      ctx.lineCap = 'butt';
      const xb = a.bottom;
      ctx.beginPath();
      ctx.moveTo(x.getPixelForValue(X_TICKS[0]), xb);
      ctx.lineTo(x.getPixelForValue(X_TICKS[X_TICKS.length - 1]), xb);
      X_TICKS.forEach(v => { const p = x.getPixelForValue(v); ctx.moveTo(p, xb); ctx.lineTo(p, xb + 12.5); });
      const yl = a.left;
      ctx.moveTo(yl, y.getPixelForValue(cfg.yTicks[0]));
      ctx.lineTo(yl, y.getPixelForValue(cfg.yTicks[cfg.yTicks.length - 1]));
      cfg.yTicks.forEach(v => { const p = y.getPixelForValue(v); ctx.moveTo(yl, p); ctx.lineTo(yl - 13.5, p); });
      ctx.stroke();
      ctx.font = '19.5px ' + FONT;
      ctx.textAlign = 'center';
      ctx.textBaseline = 'middle';
      X_TICKS.forEach((v, i) => ctx.fillText(X_TICK_LABELS[i], x.getPixelForValue(v), xb + 40));
      cfg.yTicks.forEach((v, i) => {
        const p = y.getPixelForValue(v);
        if (cfg.rotate) {
          ctx.save();
          ctx.translate(yl - 37.5, p);
          ctx.rotate(-Math.PI / 2);
          ctx.textAlign = 'center';
          ctx.textBaseline = 'middle';
          ctx.fillText(cfg.yLabels[i], 0, 0);
          ctx.restore();
        } else {
          ctx.textAlign = 'right';
          ctx.textBaseline = 'middle';
          ctx.fillText(cfg.yLabels[i], yl - 27, p);
        }
      });
      ctx.textAlign = 'center';
      ctx.textBaseline = 'middle';
      ctx.font = '20px ' + FONT;
      ctx.fillText(X_TITLE, (a.left + a.right) / 2, xb + 92);
      ctx.font = 'bold 21.5px ' + FONT;
      ctx.fillText(cfg.title, (a.left + a.right) / 2, cfg.titleY);
      ctx.restore();
    }
  };
}

function makeChart(id, pad, yMin, yMax, values, grayVals, navyVals, cfg) {
  // Chart.js paints dataset 0 on top, so highlighted patients come first
  const datasets = [
    {data: pts(NAVY_TIMES, navyVals), borderColor: NAVY, borderWidth: 3, pointRadius: 0, fill: false, tension: 0},
    {data: pts(GRAY_TIMES, grayVals), borderColor: GRAY, borderWidth: 3, pointRadius: 0, fill: false, tension: 0}
  ];
  TIMES.forEach((t, i) => datasets.push({
    data: pts(t, values[i]), borderColor: LIGHT, borderWidth: 1.4, pointRadius: 0, fill: false, tension: 0
  }));
  new Chart(document.getElementById(id), {
    type: 'line',
    data: {datasets},
    options: {
      responsive: false, animation: false, devicePixelRatio: 1, events: [],
      layout: {padding: pad},
      plugins: {legend: {display: false}, tooltip: {enabled: false}, title: {display: false}},
      elements: {line: {borderJoinStyle: 'round', borderCapStyle: 'butt'}},
      scales: {
        x: {type: 'linear', min: -0.1, max: 2.6, display: false},
        y: {type: 'linear', min: yMin, max: yMax, display: false}
      }
    },
    plugins: [axesPlugin(cfg)]
  });
}

makeChart('c1', {left: 71.4, top: 55.3, right: 25.9, bottom: 107.7}, -2.208, 3.408, BILI, GRAY_BILI, NAVY_BILI,
  {yTicks: BILI_TICKS, yLabels: BILI_TICK_LABELS, rotate: true, title: TITLES[0], titleY: 24});
makeChart('c2', {left: 93.5, top: 55.5, right: 5.9, bottom: 107.7}, -22, 572, PLAT, GRAY_PLAT, NAVY_PLAT,
  {yTicks: PLAT_TICKS, yLabels: PLAT_TICK_LABELS, rotate: true, title: TITLES[1], titleY: 24});
makeChart('c3', {left: 71.4, top: 62.7, right: 25.9, bottom: 102.7}, -0.146, 1.146, HEP, GRAY_HEP, NAVY_HEP,
  {yTicks: HEP_TICKS, yLabels: HEP_TICK_LABELS, rotate: false, title: TITLES[2], titleY: 31});
makeChart('c4', {left: 93.5, top: 60.7, right: 5.9, bottom: 102.3}, -0.094, 1.094, EDEMA, GRAY_EDEMA, NAVY_EDEMA,
  {yTicks: EDEMA_TICKS, yLabels: EDEMA_TICK_LABELS, rotate: false, title: TITLES[3], titleY: 30});
</script>
</body></html>
